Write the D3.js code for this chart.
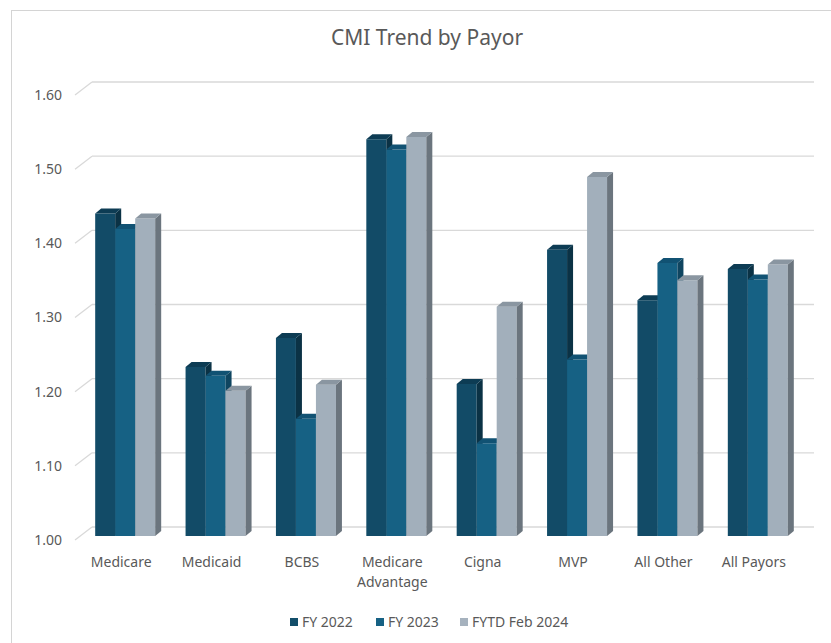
<!DOCTYPE html>
<html lang="en">
  <head>
    <meta charset="UTF-8" />
    <title>CMI Trend by Payor</title>
    <script src="https://cdnjs.cloudflare.com/ajax/libs/d3/7.9.0/d3.min.js"></script>
    <style>
      html, body { margin: 0; padding: 0; background: #fff; }
      svg { display: block; font-family: "Noto Sans", "Open Sans", sans-serif; }
      .grid { stroke: #d9d9d9; stroke-width: 1.3; fill: none; }
      .tick-label, .cat-label, .legend text { fill: #595959; font-size: 14px; }
    </style>
  </head>
  <body>
    <svg id="chart" width="831" height="643"></svg>
    <script>
      /* ---------- data ---------- */
      const categories = ["Medicare", "Medicaid", "BCBS", "Medicare Advantage", "Cigna", "MVP", "All Other", "All Payors"];
      const seriesNames = ["FY 2022", "FY 2023", "FYTD Feb 2024"];
      const fy2022 = [1.435, 1.228, 1.267, 1.535, 1.205, 1.386, 1.318, 1.360];
      const fy2023 = [1.414, 1.216, 1.158, 1.521, 1.125, 1.238, 1.368, 1.346];
      const fytd2024 = [1.428, 1.196, 1.204, 1.538, 1.309, 1.484, 1.345, 1.366];
      const yTicks = [1.0, 1.1, 1.2, 1.3, 1.4, 1.5, 1.6];

      const seriesValues = [fy2022, fy2023, fytd2024];
      // front, side, top face colours per series
      const faceColors = [
        { front: "#124b67", side: "#0b3245", top: "#0d3c54", legend: "#124e6a" },
        { front: "#166184", side: "#0f4560", top: "#115273", legend: "#166184" },
        { front: "#a2afbb", side: "#6b757e", top: "#8a96a1", legend: "#a6b2be" },
      ];

      /* ---------- geometry ---------- */
      const svg = d3.select("#chart");
      const wallDx = 17, wallDy = -13; // front axis -> back wall
      const barDx = 5, barDy = -4;     // front axis -> bar front face
      const depthDx = 6, depthDy = -5; // bar depth

      const y = d3.scaleLinear().domain([1.0, 1.6]).range([540, 95]);
      const x0 = d3.scalePoint().domain(categories).range([75, 798]).padding(0.5);
      const x1 = d3.scaleBand().domain(seriesNames).range([-30, 30]);

      // outer chart border (cropped on right/bottom)
      svg.append("rect")
        .attr("x", 11.5).attr("y", 10.5)
        .attr("width", 900).attr("height", 700)
        .attr("fill", "none").attr("stroke", "#d4d4d4");

      // title
      svg.append("text")
        .attr("x", 427).attr("y", 45)
        .attr("text-anchor", "middle")
        .attr("font-size", "21px")
        .attr("fill", "#595959")
        .text("CMI Trend by Payor");

      /* ---------- back wall gridlines + diagonal ticks ---------- */
      const grid = svg.append("g");
      yTicks.forEach((t) => {
        const yf = y(t);
        grid.append("line").attr("class", "grid")
          .attr("x1", 75).attr("y1", yf)
          .attr("x2", 75 + wallDx).attr("y2", yf + wallDy);
        grid.append("line").attr("class", "grid")
          .attr("x1", 75 + wallDx).attr("y1", yf + wallDy)
          .attr("x2", 814).attr("y2", yf + wallDy);
        grid.append("text").attr("class", "tick-label")
          .attr("x", 62).attr("y", yf)
          .attr("dy", "0.35em")
          .attr("text-anchor", "end")
          .text(d3.format(".2f")(t));
      });

      /* ---------- 3D bars ---------- */
      const bars = svg.append("g");
      categories.forEach((cat, ci) => {
        seriesNames.forEach((s, si) => {
          const v = seriesValues[si][ci];
          const c = faceColors[si];
          const xl = x0(cat) + x1(s) + barDx;
          const xr = xl + x1.bandwidth();
          const yb = y(1.0) + barDy;
          const yt = y(v) + barDy;
          const poly = (pts) => pts.map((p) => p.join(",")).join(" ");
          bars.append("polygon").attr("fill", c.front)
            .attr("points", poly([[xl, yt], [xr, yt], [xr, yb], [xl, yb]]));
          bars.append("polygon").attr("fill", c.side)
            .attr("points", poly([[xr, yt], [xr + depthDx, yt + depthDy], [xr + depthDx, yb + depthDy], [xr, yb]]));
          bars.append("polygon").attr("fill", c.top)
            .attr("points", poly([[xl, yt], [xl + depthDx, yt + depthDy], [xr + depthDx, yt + depthDy], [xr, yt]]));
        });
      });

      /* ---------- category labels ---------- */
      const catLabels = svg.append("g");
      categories.forEach((cat) => {
        const words = cat === "Medicare Advantage" ? ["Medicare", "Advantage"] : [cat];
        const t = catLabels.append("text").attr("class", "cat-label")
          .attr("text-anchor", "middle")
          .attr("x", x0(cat) + 1)
          .attr("y", 567);
        words.forEach((w, i) => {
          t.append("tspan").attr("x", x0(cat) + 1).attr("dy", i ? 20 : 0).text(w);
        });
      });

      /* ---------- legend ---------- */
      const legendX = [290, 376, 460];
      const legend = svg.append("g").attr("class", "legend");
      seriesNames.forEach((s, i) => {
        legend.append("rect")
          .attr("x", legendX[i]).attr("y", 618)
          .attr("width", 8).attr("height", 8)
          .attr("fill", faceColors[i].legend);
        legend.append("text")
          .attr("x", legendX[i] + 12).attr("y", 622)
          .attr("dy", "0.35em")
          .text(s);
      });
    </script>
  </body>
</html>
